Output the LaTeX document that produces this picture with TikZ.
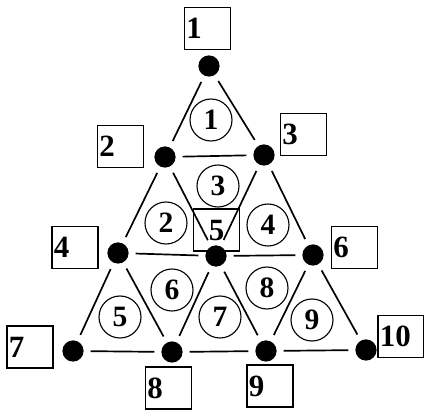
\documentclass[tikz,border=0pt]{standalone}
\usepackage{fontspec}
\setmainfont{Liberation Serif}
\usepackage{tikz}

\tikzset{
  dot/.style={circle, fill=black, inner sep=0pt, minimum size=0.53cm},
  numbox/.style={draw, line width=1.1pt, rectangle, minimum height=1.05cm, text width=1.05cm, text depth=0pt, inner xsep=0.05cm, align=left, font=\fontsize{22}{24}\selectfont\bfseries},
  tri/.style={draw, line width=0.8pt, circle, inner sep=0pt, minimum size=1.05cm, font=\fontsize{21}{23}\selectfont\bfseries},
  edge/.style={line width=1.2pt, shorten <=0.17cm, shorten >=0.17cm}
}

\begin{document}
\begin{tikzpicture}[x=0.025cm, y=-0.025cm]
    \useasboundingbox (0,0) rectangle (424,414);

    % Dots (vertices of the grid)
    \node[dot] (d1) at (209,66) {};
    \node[dot] (d2) at (165,157) {};
    \node[dot] (d3) at (264,155) {};
    \node[dot] (d4) at (118,253) {};
    \node[dot] (d5) at (216,256) {};
    \node[dot] (d6) at (313,255) {};
    \node[dot] (d7) at (73,351) {};
    \node[dot] (d8) at (172,352) {};
    \node[dot] (d9) at (266,351) {};
    \node[dot] (d10) at (366,350) {};

    % Edges between the dots (with gaps at both ends)
    \foreach \a/\b in {1/2,1/3,2/3,2/4,2/5,3/5,3/6,4/5,5/6,4/7,4/8,5/8,5/9,6/9,6/10,7/8,8/9,9/10} {
        \draw[edge] (d\a) -- (d\b);
    }

    % Boxed vertex numbers
    \node[numbox] (b1) at (207.5,28.5) {1};
    \node[numbox] (b2) at (120.5,146.5) {2};
    \node[numbox] (b3) at (303.5,134.5) {3};
    \node[numbox] (b4) at (75,247.5) {4};
    \node[numbox, align=center] (b5) at (216.5,230) {5};
    \node[numbox] (b6) at (354.5,247.5) {6};
    \node[numbox] (b7) at (30,347) {7};
    \node[numbox] (b8) at (168.5,388) {8};
    \node[numbox] (b9) at (270,386) {9};
    \node[numbox] (b10) at (401,336.5) {10};

    % Circled triangle numbers
    \node[tri] (c1) at (211,120) {1};
    \node[tri] (c2) at (166,223) {2};
    \node[tri] (c3) at (218,186) {3};
    \node[tri] (c4) at (268,225) {4};
    \node[tri] (c5) at (120,317) {5};
    \node[tri] (c6) at (172,290) {6};
    \node[tri] (c7) at (220,317) {7};
    \node[tri] (c8) at (267,288) {8};
    \node[tri] (c9) at (312,320) {9};

\end{tikzpicture}
\end{document}
